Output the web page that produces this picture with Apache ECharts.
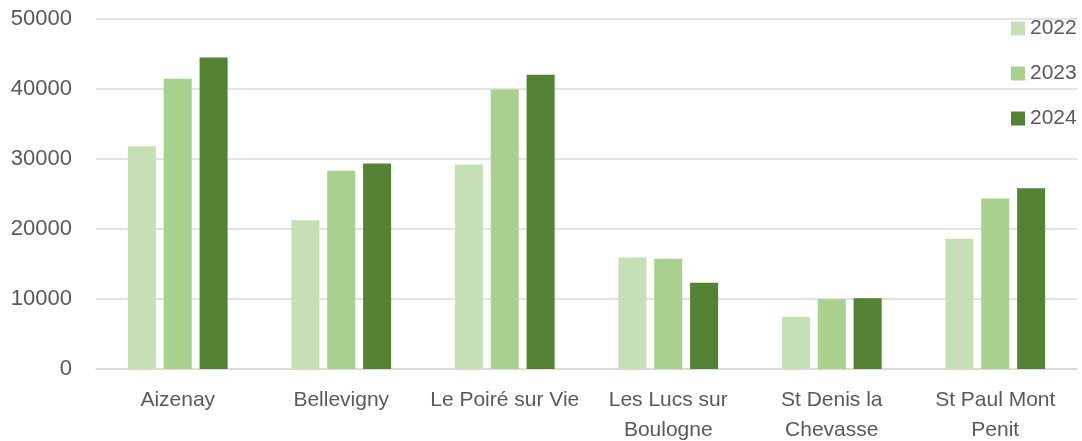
<!DOCTYPE html>
<html>
<head>
<meta charset="utf-8">
<script src="https://cdn.jsdelivr.net/npm/echarts@6/dist/echarts.min.js"></script>
<style>
  html, body { margin: 0; padding: 0; background: #fff; }
  #chart { width: 1082px; height: 441px; }
</style>
</head>
<body>
<div id="chart"></div>
<script>
var communes = ['Aizenay', 'Bellevigny', 'Le Poiré sur Vie', 'Les Lucs sur\nBoulogne', 'St Denis la\nChevasse', 'St Paul Mont\nPenit'];
var years = ['2022', '2023', '2024'];
var v2022 = [31830, 21260, 29210, 15930, 7460, 18600];
var v2023 = [41460, 28310, 39930, 15740, 9970, 24360];
var v2024 = [44500, 29360, 42030, 12310, 10110, 25830];
var yTicks = [0, 10000, 20000, 30000, 40000, 50000];
var colors = ['#c5e0b4', '#a9d18e', '#548235'];

var chart = echarts.init(document.getElementById('chart'));
var txt = '#595959';
var font = 'Liberation Sans, Arial, sans-serif';

var option = {
    animation: false,
    color: colors,
    textStyle: { fontFamily: font },
    grid: {
        left: 96,
        right: 5,
        top: 19,
        bottom: 72,
        containLabel: false,
        outerBoundsMode: 'none'
    },
    legend: {
        orient: 'vertical',
        left: 1011,
        top: 18,
        padding: 0,
        itemWidth: 14,
        itemHeight: 14,
        itemGap: 24,
        icon: 'rect',
        textStyle: { color: txt, fontSize: 21, fontFamily: font },
        data: years
    },
    xAxis: {
        type: 'category',
        data: communes,
        axisTick: { show: false },
        axisLine: { lineStyle: { color: '#d9d9d9', width: 1.5 } },
        axisLabel: {
            color: txt,
            fontSize: 21,
            lineHeight: 30,
            margin: 16,
            interval: 0
        }
    },
    yAxis: {
        type: 'value',
        min: yTicks[0],
        max: yTicks[yTicks.length - 1],
        interval: 10000,
        axisLine: { show: false },
        axisTick: { show: false },
        axisLabel: {
            color: txt,
            fontSize: 22,
            margin: 24,
            formatter: function (v) { return String(v); }
        },
        splitLine: { lineStyle: { color: '#d9d9d9', width: 1.5 } }
    },
    series: [
        { name: years[0], type: 'bar', data: v2022, barGap: '28%', barCategoryGap: '39%' },
        { name: years[1], type: 'bar', data: v2023, barGap: '28%', barCategoryGap: '39%' },
        { name: years[2], type: 'bar', data: v2024, barGap: '28%', barCategoryGap: '39%' }
    ]
};
chart.setOption(option);
</script>
</body>
</html>
